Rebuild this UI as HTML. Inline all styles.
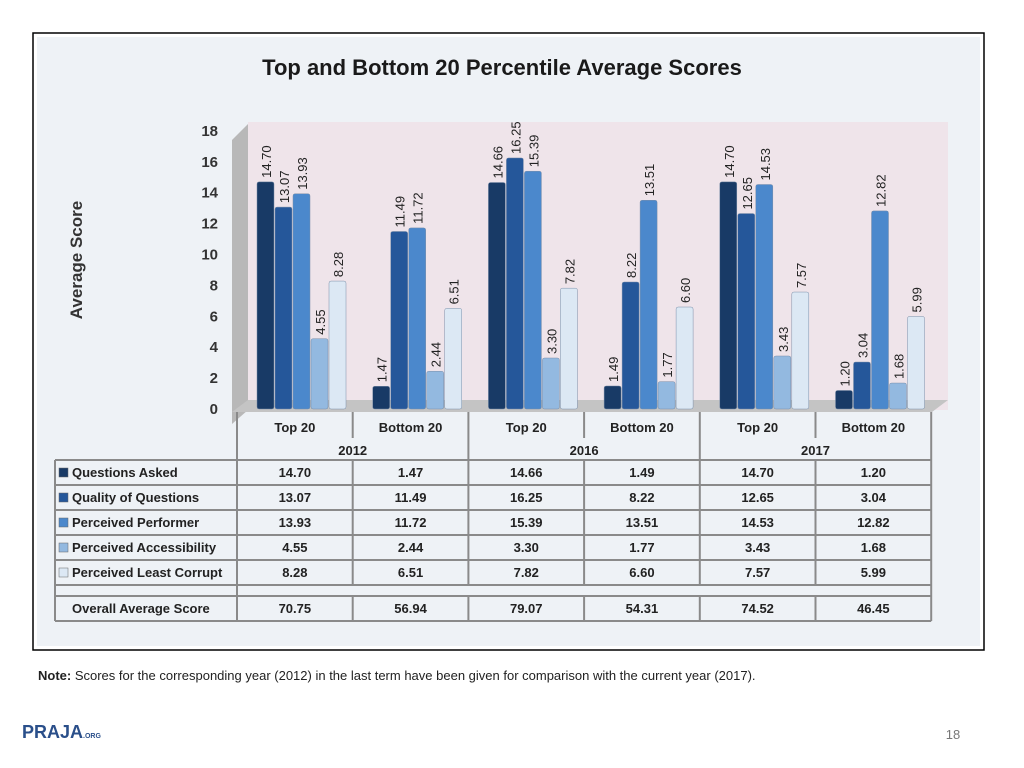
<!DOCTYPE html>
<html><head><meta charset="utf-8">
<style>
body{margin:0;background:#fff;width:1024px;height:768px;overflow:hidden;font-family:"Liberation Sans",sans-serif;}
svg{position:absolute;left:0;top:0}
</style></head>
<body>
<svg width="1024" height="768">
<rect x="33" y="33" width="951" height="617" fill="#fff" stroke="#000" stroke-width="1.5"/>
<rect x="37" y="37" width="943" height="609" fill="#eef2f6"/>
<text x="502" y="75" text-anchor="middle" font-size="22" font-weight="bold" fill="#1a1a1a">Top and Bottom 20 Percentile Average Scores</text>
<rect x="248" y="122" width="700" height="288" fill="#efe4ea"/>
<polygon points="232,140 248,124 248,410 232,424" fill="#b8b8b8"/>
<polygon points="232,412 248,400 948,400 932,412" fill="#c4c4c4"/>
<text transform="translate(82,260) rotate(-90)" text-anchor="middle" font-size="17" font-weight="bold" fill="#333">Average Score</text>
<g id="yticks"></g>
<g id="bars"></g>
<g id="table"></g>
<text x="38" y="680" font-size="13" fill="#222"><tspan font-weight="bold">Note:</tspan> Scores for the corresponding year (2012) in the last term have been given for comparison with the current year (2017).</text>
<text x="22" y="738" font-size="18" font-weight="bold" fill="#2a4f8a">PRAJA<tspan font-size="7">.ORG</tspan></text>
<text x="953" y="739" text-anchor="middle" font-size="13" fill="#777">18</text>
</svg>
<script>
const categories=["Top 20","Bottom 20","Top 20","Bottom 20","Top 20","Bottom 20"];
const years=["2012","2016","2017"];
const seriesNames=["Questions Asked","Quality of Questions","Perceived Performer","Perceived Accessibility","Perceived Least Corrupt"];
const questionsAsked=[14.70,1.47,14.66,1.49,14.70,1.20];
const qualityOfQuestions=[13.07,11.49,16.25,8.22,12.65,3.04];
const perceivedPerformer=[13.93,11.72,15.39,13.51,14.53,12.82];
const perceivedAccessibility=[4.55,2.44,3.30,1.77,3.43,1.68];
const perceivedLeastCorrupt=[8.28,6.51,7.82,6.60,7.57,5.99];
const overall=[70.75,56.94,79.07,54.31,74.52,46.45];
const yTicks=[0,2,4,6,8,10,12,14,16,18];
const series=[questionsAsked,qualityOfQuestions,perceivedPerformer,perceivedAccessibility,perceivedLeastCorrupt];
const colors=["#183a66","#25579a","#4b88cc","#93b9e0","#dce8f4"];
const NS="http://www.w3.org/2000/svg";
const y0=409,scale=15.45,colX=237,colW=115.7,labelX=55;
function ys(v){return y0-v*scale;}
function mk(t,a,p){const e=document.createElementNS(NS,t);for(const k in a)e.setAttribute(k,a[k]);p.appendChild(e);return e;}
const yt=document.getElementById('yticks');
yTicks.forEach(v=>{const t=mk('text',{x:218,y:ys(v)+5,'text-anchor':'end','font-size':15,'font-weight':'bold',fill:'#333'},yt);


t.textContent=v;});
const bg=document.getElementById('bars');
categories.forEach((c,i)=>{series.forEach((s,j)=>{const v=s[i];const x=colX+i*colW+20+j*18;const top=ys(v);
const r=mk('rect',{x:x,y:top,width:17,height:y0-top,fill:colors[j],stroke:'#7a8ea8','stroke-width':0.5,rx:2},bg);


const l=mk('text',{transform:`translate(${x+14},${top-4}) rotate(-90)`,'font-size':13,fill:'#222'},bg);


l.textContent=v.toFixed(2);});});
const tb=document.getElementById('table');
const tEnd=colX+6*colW;
function line(x1,y1,x2,y2){const e=mk('line',{x1,y1,x2,y2,stroke:'#8a8a8a','stroke-width':2},tb);}
// header
line(colX,412,colX,460);line(tEnd,412,tEnd,460);
for(let i=1;i<6;i++){line(colX+i*colW,412,colX+i*colW,i%2?438:460);}
categories.forEach((c,i)=>{const t=mk('text',{x:colX+i*colW+colW/2,y:432,'text-anchor':'middle','font-size':13,'font-weight':'bold',fill:'#222'},tb);


t.textContent=c;});
years.forEach((yv,k)=>{const t=mk('text',{x:colX+(2*k+1)*colW,y:455,'text-anchor':'middle','font-size':13,'font-weight':'bold',fill:'#222'},tb);


t.textContent=yv;});
const rowY=[460,485,510,535,560,585];
line(labelX,460,tEnd,460);
rowY.forEach(r=>line(labelX,r,tEnd,r));
line(labelX,596,tEnd,596);line(labelX,621,tEnd,621);
line(labelX,460,labelX,621);
for(let i=0;i<=6;i++){line(colX+i*colW,460,colX+i*colW,585);line(colX+i*colW,596,colX+i*colW,621);}
line(colX,585,colX,596);line(tEnd,585,tEnd,596);
seriesNames.forEach((n,j)=>{const sq=mk('rect',{x:59,y:rowY[j]+8,width:9,height:9,fill:colors[j],stroke:'#666','stroke-width':0.5},tb);


const t=mk('text',{x:72,y:rowY[j]+17,'font-size':13,'font-weight':'bold',fill:'#222'},tb);


t.textContent=n;
series[j].forEach((v,i)=>{const c=mk('text',{x:colX+i*colW+colW/2,y:rowY[j]+17,'text-anchor':'middle','font-size':13,'font-weight':'bold',fill:'#222'},tb);


c.textContent=v.toFixed(2);});});
const ol=mk('text',{x:72,y:613,'font-size':13,'font-weight':'bold',fill:'#222'},tb);


ol.textContent="Overall Average Score";
overall.forEach((v,i)=>{const c=mk('text',{x:colX+i*colW+colW/2,y:613,'text-anchor':'middle','font-size':13,'font-weight':'bold',fill:'#222'},tb);


c.textContent=v.toFixed(2);});
</script>
</body></html>
